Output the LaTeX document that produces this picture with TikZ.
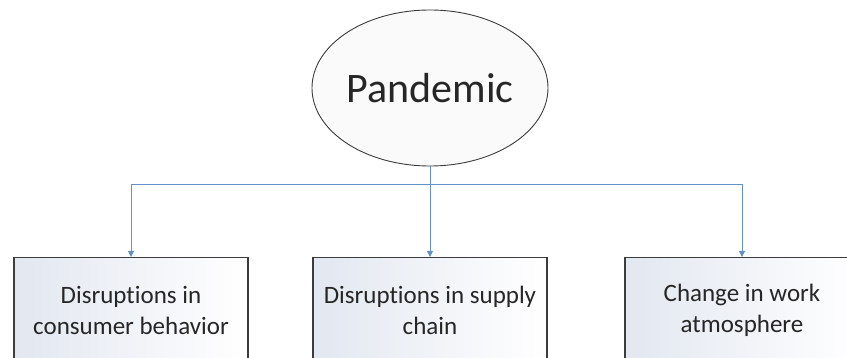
\documentclass[tikz,border=0pt]{standalone}
\usepackage{fontspec}
\setmainfont{Carlito}[Ligatures=NoCommon]
\usetikzlibrary{shapes.geometric,arrows.meta}
\definecolor{linkblue}{RGB}{98,146,200}
\definecolor{edgegray}{RGB}{60,60,60}
\definecolor{inkgray}{RGB}{38,38,38}
\definecolor{boxtint}{RGB}{226,231,240}
\definecolor{rootfill}{RGB}{250,250,250}
\tikzset{
  rootnode/.style={ellipse, draw=edgegray, line width=0.9pt, fill=rootfill,
    minimum width=236pt, minimum height=156pt, inner sep=0pt,
    font=\fontsize{42}{50}\selectfont, text=inkgray},
  itembox/.style={rectangle, draw=edgegray, line width=1.1pt,
    shading=axis, shading angle=120, left color=boxtint, right color=white,
    minimum width=234pt, minimum height=106pt, inner sep=0pt,
    anchor=north, align=center,
    font=\fontsize{25}{31}\selectfont, text=inkgray},
  conn/.style={draw=linkblue, line width=1pt,
    -{Triangle[width=6pt,length=6pt]}}
}
\begin{document}
\begin{tikzpicture}[x=1pt,y=-1pt]
  \clip (0,0) rectangle (847,358);
  \fill[white] (0,0) rectangle (847,358);

  \node[rootnode] (pan) at (430,88) {Pandemic};

  \node[itembox] (b1) at (131,257) {Disruptions in\\consumer behavior};
  \node[itembox] (b2) at (430,257) {Disruptions in supply\\chain};
  \node[itembox] (b3) at (742,257) {Change in work\\atmosphere};

  \coordinate (j) at (430,185);
  \draw[conn] (pan.south) -- (b2.north);
  \draw[conn] (j) -| (b1.north);
  \draw[conn] (j) -| (b3.north);
\end{tikzpicture}
\end{document}
